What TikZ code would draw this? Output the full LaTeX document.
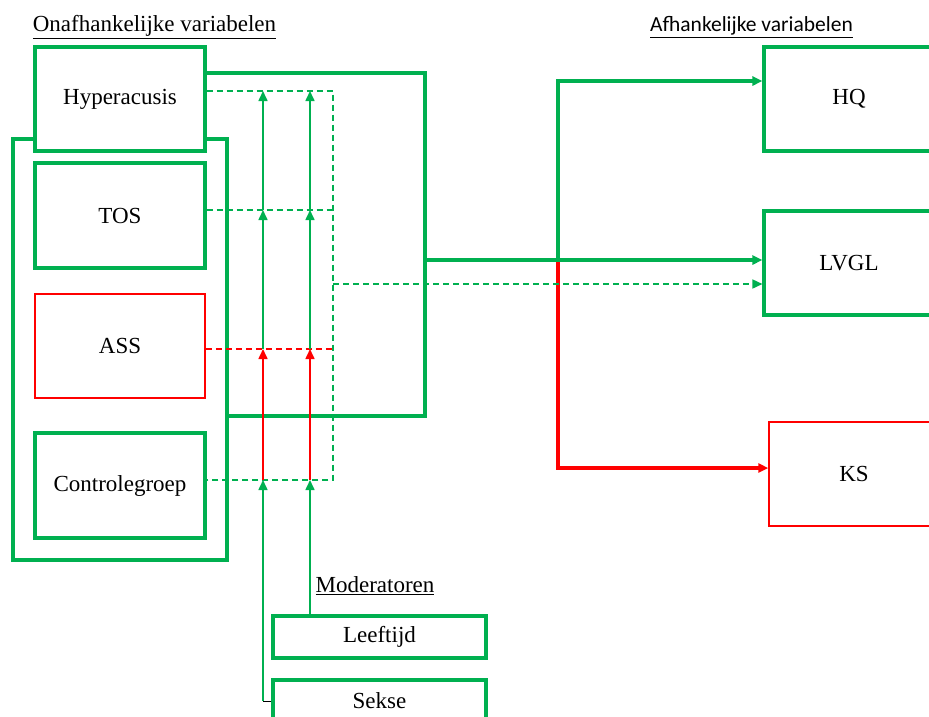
\documentclass[tikz,border=0pt]{standalone}
\usepackage{fontspec}
\setmainfont{Liberation Serif}
\newfontfamily\calibrifont{Carlito}
\usetikzlibrary{arrows.meta}
\definecolor{groen}{RGB}{0,176,80}
\definecolor{rood}{RGB}{255,0,0}

\begin{document}
\begin{tikzpicture}[x=1pt,y=-1pt]
	\tikzset{
	  vak/.style={draw=groen, line width=3.1pt, fill=white, inner sep=0pt, minimum width=170pt, minimum height=104pt, font=\fontsize{23}{27}\selectfont},
	  roodvak/.style={vak, draw=rood, line width=1.5pt},
	  modvak/.style={vak, minimum width=213pt, minimum height=42pt},
	  dik/.style={groen, line width=3.1pt},
	  dun/.style={groen, line width=1.6pt},
	  stip/.style={dun, dash pattern=on 6pt off 4pt},
	  pijl/.style={-{Triangle[length=10pt,width=9pt]}},
	  kop/.style={inner sep=0pt, font=\fontsize{23}{27}\selectfont}
	}
	\useasboundingbox (0,0) rectangle (929,716);

	% onafhankelijke variabelen
	\node [kop] (onafh) at (154.5,27) {\underline{Onafhankelijke variabelen}};
	\node [vak, minimum width=214pt, minimum height=421pt] (groep) at (120,349.5) {};
	\node [vak] (hyp) at (120,99) {Hyperacusis};
	\node [vak, minimum height=105pt] (tos) at (120,215.5) {TOS};
	\node [roodvak] (ass) at (120,346) {ASS};
	\node [vak, minimum height=105pt] (ctrl) at (120,485.5) {Controlegroep};

	% afhankelijke variabelen
	\node [kop, font=\calibrifont\fontsize{21.5}{25}\selectfont] (afh) at (751.5,27) {\underline{Afhankelijke variabelen}};
	\node [vak] (hq) at (849,99) {HQ};
	\node [vak] (lvgl) at (849,263) {LVGL};
	\node [roodvak] (ks) at (854,474) {KS};

	% moderatoren
	\node [kop] (mod) at (375,586) {\underline{Moderatoren}};
	\node [modvak] (leeftijd) at (379.5,637) {Leeftijd};
	\node [modvak] (sekse) at (379.5,701) {Sekse};

	\coordinate (hoek1) at (425,73);
	\coordinate (hoek2) at (425,416);
	\coordinate (splits) at (425,260);
	\coordinate (knoop) at (558,260);
	\coordinate (boven) at (558,81);
	\coordinate (onder) at (558,468);
	\coordinate (s1) at (333,91);
	\coordinate (s2) at (333,480);
	\coordinate (s3) at (333,284);
	\coordinate (s4) at (333,210);
	\coordinate (s5) at (333,349);
	\foreach \x/\n in {263/a,310/b} {
		\coordinate (\n1) at (\x,91);
		\coordinate (\n2) at (\x,210);
		\coordinate (\n3) at (\x,349);
		\coordinate (\n4) at (\x,480);
	}

	\draw [dik] (hyp.east |- hoek1)--(hoek1)--(hoek2)--(groep.east |- hoek2);
	\draw [dik, rood, pijl] (knoop)--(onder)--(ks.west |- onder);
	\draw [dik, pijl] (splits)--(lvgl.west |- splits);
	\draw [dik, pijl] (knoop)--(boven)--(hq.west |- boven);

	\draw [stip] (hyp.east |- s1)--(s1)--(s2)--(ctrl.east |- s2);
	\draw [stip] (tos.east |- s4)--(s4);
	\draw [stip, rood] (ass.east |- s5)--(s5);
	\draw [stip, pijl] (s3)--(lvgl.west |- s3);

	\draw [black, line width=1pt] (sekse.west)--(a4 |- sekse.west);
	\draw [dun, pijl] (a4 |- sekse.west)--(a4);
	\draw [dun, pijl] (b4 |- leeftijd.north)--(b4);
	\foreach \n in {a,b} {
		\draw [dun, rood, pijl] (\n4)--(\n3);
		\draw [dun, pijl] (\n3)--(\n2);
		\draw [dun, pijl] (\n2)--(\n1);
	}
\end{tikzpicture}
\end{document}
